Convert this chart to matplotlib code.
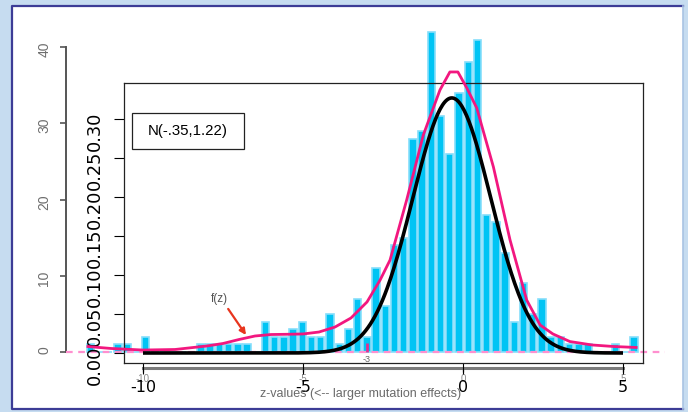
import numpy as np
import matplotlib
matplotlib.use("Agg")
import matplotlib.pyplot as plt
from matplotlib.patches import Rectangle

plt.rcParams['font.family'] = ['Liberation Sans', 'DejaVu Sans']
plt.rcParams['axes.unicode_minus'] = False

# histogram of z-values: counts per bin
bin_start = -11.76
bin_width = 0.288
counts = [1, 0, 0, 1, 1, 0, 2, 0, 0, 0,
          0, 0, 1, 1, 1, 1, 1, 1, 0, 4,
          2, 2, 3, 4, 2, 2, 5, 1, 3, 7,
          2, 11, 6, 14, 15, 28, 29, 42, 31, 26,
          34, 38, 41, 18, 17, 13, 4, 9, 5, 7,
          2, 2, 1, 1, 1, 0, 0, 1, 0, 2]
count_ticks = [0, 10, 20, 30, 40]

# fitted mixture density f(z)
fz_z = [-11.72, -11.0, -10.0, -9.0, -8.0, -7.5, -7.0, -6.5, -6.0, -5.5, -5.0,
        -4.5, -4.0, -3.5, -3.0, -2.59, -2.28, -1.76, -1.24, -0.72, -0.41,
        -0.16, 0.12, 0.43, 0.95, 1.47, 1.99, 2.41, 2.81, 3.34, 4.03, 4.72, 5.41]
fz_d = [0.0083, 0.0058, 0.0038, 0.0045, 0.0090, 0.0122, 0.0173, 0.0218,
        0.0237, 0.0240, 0.0244, 0.0269, 0.0333, 0.0449, 0.0654, 0.0936,
        0.1192, 0.1962, 0.2795, 0.3372, 0.3603, 0.3603, 0.3397, 0.3141,
        0.2385, 0.1449, 0.0679, 0.0359, 0.0244, 0.0147, 0.0103, 0.0083, 0.0071]

# theoretical null N(-.35, 1.22)
null_mean = -0.35
null_sd = 1.22
null_range = (-10, 5)

z_ticks = [-10, -5, 0, 5]
dens_ticks = [0.00, 0.05, 0.10, 0.15, 0.20, 0.25, 0.30]
mark_z = -3

W, H = 688, 412
fig = plt.figure(figsize=(W / 100, H / 100), dpi=100, facecolor='#c6dcf0')

# page panel
bg = fig.add_axes([0, 0, 1, 1], zorder=-1)
bg.set_xlim(0, W)
bg.set_ylim(H, 0)
bg.axis('off')
bg.add_patch(Rectangle((12, 6), 671, 403, facecolor='white', edgecolor='none'))
bg.plot([683, 12, 12, 683], [6, 6, 409, 409], color='#3c3c96', lw=1.6)
bg.plot([683, 683], [6, 409], color='#a9c3e3', lw=1.2)

# pixel mapping shared by both layers
x0_px, px_per_z = 463, 32.0
def zx(px):
    return (px - x0_px) / px_per_z
def cy(py):
    return (352 - py) / 7.62
def dy(py):
    return (353 - py) / 780.0

# ---- histogram layer (counts) ----
ax_h = fig.add_axes([0, 0, 1, 1], zorder=1)
ax_h.patch.set_visible(False)
ax_h.set_xlim(zx(0), zx(W))
ax_h.set_ylim(cy(H), cy(0))

edges = bin_start + bin_width * np.arange(len(counts))
ax_h.bar(edges, counts, width=bin_width * 0.8, align='edge',
         color='#00c4f4', edgecolor='#86defb', linewidth=1.2, zorder=2)

ax_h.hlines(0, zx(66), zx(665), colors='#ff8fcf', linestyles=(0, (3, 2.5)),
            lw=1.6, zorder=3)
ax_h.vlines(mark_z, 0, 1.2, colors='#e2308f', lw=2, zorder=3)
ax_h.text(mark_z, cy(360), str(mark_z), fontsize=6.5, color='#666666',
          ha='center', va='center', zorder=5)

for s in ['top', 'right']:
    ax_h.spines[s].set_visible(False)
ax_h.spines['left'].set_position(('data', zx(66)))
ax_h.spines['left'].set_bounds(0, 40)
ax_h.spines['left'].set_color('#555555')
ax_h.spines['left'].set_linewidth(1.4)
ax_h.spines['bottom'].set_position(('data', cy(368)))
ax_h.spines['bottom'].set_bounds(-10, 5)
ax_h.spines['bottom'].set_color('#7a7a7a')
ax_h.spines['bottom'].set_linewidth(2.2)
ax_h.set_yticks(count_ticks, labels=[str(c) for c in count_ticks])
ax_h.set_xticks(z_ticks, labels=[str(z) for z in z_ticks])
ax_h.tick_params(axis='y', length=4.5, width=1.2, color='#555555', labelsize=10,
                 labelcolor='#6e6e6e', labelrotation=90, pad=6)
ax_h.tick_params(axis='x', length=3, width=1, color='#777777', labelsize=7,
                 labelcolor='#8a8a8a', pad=1.0)

# ---- density layer (box) ----
left, right, top, bottom = 123.7, 643, 82.7, 363.3
ax = fig.add_axes([left / W, 1 - bottom / H, (right - left) / W, (bottom - top) / H],
                  zorder=2)
ax.patch.set_visible(False)
ax.set_xlim(zx(left), zx(right))
ax.set_ylim(dy(bottom), dy(top))
for s in ax.spines.values():
    s.set_color('#222222')
    s.set_linewidth(0.9)

ax.set_yticks(dens_ticks, labels=[f'{v:.2f}' for v in dens_ticks],
              fontfamily='DejaVu Sans')
ax.set_xticks(z_ticks, labels=[str(z) for z in z_ticks], fontfamily='DejaVu Sans')
ax.tick_params(axis='y', length=7.5, width=0.8, labelsize=12.8, labelrotation=90, pad=7)
ax.tick_params(axis='x', length=8, width=0.8, labelsize=11.5, pad=4)

ax.plot(fz_z, fz_d, color='#f2177f', lw=2.0, zorder=3, clip_on=False)

zz = np.linspace(null_range[0], null_range[1], 400)
null_d = np.exp(-0.5 * ((zz - null_mean) / null_sd) ** 2) / (null_sd * np.sqrt(2 * np.pi))
ax.plot(zz, null_d, color='black', lw=2.6, zorder=4, solid_capstyle='butt')

ax.add_patch(Rectangle((0.0152, 0.7637), 0.2165, 0.1283, transform=ax.transAxes,
                       facecolor='none', edgecolor='#222222', lw=0.9))
ax.text(0.1235, 0.828, f'N({null_mean:.2f},{null_sd:.2f})'.replace('0.', '.', 1),
        transform=ax.transAxes, fontsize=10.8, ha='center', va='center')

ax.annotate('f(z)', xy=(zx(246), dy(335)), xytext=(zx(219.5), dy(299)),
            fontsize=8.5, color='#555555', ha='center', va='center',
            arrowprops=dict(arrowstyle='-|>', color='#e8351e', lw=1.6,
                            mutation_scale=9, shrinkA=1, shrinkB=0,
                            relpos=(0.85, 0.0)))

fig.text(361 / W, 1 - 394 / H, 'z-values (<-- larger mutation effects)',
         fontsize=9, color='#6a6a6a', ha='center', va='center')

fig.savefig('out.png', dpi=100, facecolor=fig.get_facecolor())
